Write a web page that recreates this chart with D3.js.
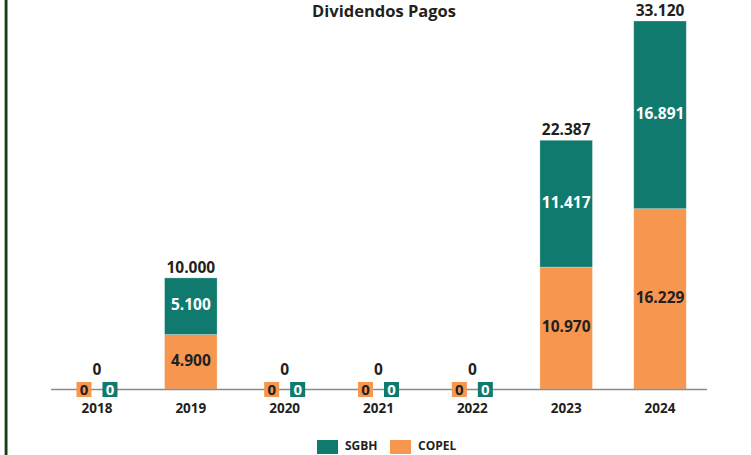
<!DOCTYPE html>
<html>
<head>
<meta charset="utf-8">
<script src="https://cdn.jsdelivr.net/npm/d3@7"></script>
<style>
  body { margin: 0; background: #fff; }
  svg text { font-family: "Open Sans", sans-serif; font-weight: 700; fill: #231f20; }
</style>
</head>
<body>
<div id="chart"></div>
<script>
// 資料
const years = ["2018", "2019", "2020", "2021", "2022", "2023", "2024"];
const copel = [0, 4900, 0, 0, 0, 10970, 16229];
const sgbh = [0, 5100, 0, 0, 0, 11417, 16891];
const totals = [0, 10000, 0, 0, 0, 22387, 33120];
const seriesNames = ["SGBH", "COPEL"];

const width = 751;
const height = 455;
const colorSgbh = "#0f7a6d";
const colorCopel = "#f7964f";

const fmt = v => d3.format(",")(v).replace(/,/g, ".");

const svg = d3.select("#chart")
  .append("svg")
  .attr("width", width)
  .attr("height", height);

// 左側邊框
svg.append("rect").attr("x", 4).attr("y", 0).attr("width", 1).attr("height", height).attr("fill", "#a8bca8");
svg.append("rect").attr("x", 5).attr("y", 0).attr("width", 2.5).attr("height", height).attr("fill", "#123f14");

const x = d3.scaleBand()
  .domain(years)
  .range([51, 706])
  .paddingInner(0.44)
  .paddingOuter(0.21);

const y = d3.scaleLinear()
  .domain([0, d3.max(totals)])
  .range([389, 21]);

// 標題
svg.append("text")
  .attr("x", 384)
  .attr("y", 17)
  .attr("text-anchor", "middle")
  .style("font-size", "16.5px")
  .text("Dividendos Pagos");

const rows = years.map((yr, i) => ({ year: yr, copel: copel[i], sgbh: sgbh[i], total: totals[i] }));
const stack = d3.stack().keys(["copel", "sgbh"])(rows);
const colors = { copel: colorCopel, sgbh: colorSgbh };

// 長條
stack.forEach(layer => {
  svg.selectAll(".bar-" + layer.key)
    .data(layer.filter(d => d[1] > d[0]))
    .join("rect")
    .attr("x", d => x(d.data.year))
    .attr("y", d => y(d[1]))
    .attr("width", x.bandwidth())
    .attr("height", d => y(d[0]) - y(d[1]))
    .attr("fill", colors[layer.key])
    .attr("stroke", "#ffffff")
    .attr("stroke-opacity", 0.35)
    .attr("stroke-width", 0.8);

  svg.selectAll(".lbl-" + layer.key)
    .data(layer.filter(d => d[1] > d[0]))
    .join("text")
    .attr("x", d => x(d.data.year) + x.bandwidth() / 2)
    .attr("y", d => (y(d[0]) + y(d[1])) / 2 + 4)
    .attr("text-anchor", "middle")
    .style("font-size", "15.5px")
    .style("fill", layer.key === "sgbh" ? "#ffffff" : "#231f20")
    .text(d => fmt(d.data[layer.key]));
});

// 軸線
svg.append("line")
  .attr("x1", 51).attr("x2", 707)
  .attr("y1", 389.5).attr("y2", 389.5)
  .attr("stroke", "#8a8a8a")
  .attr("stroke-width", 1.6);

// 零值標籤
const zeros = rows.filter(d => d.total === 0);
[["copel", -13, colorCopel, "#231f20"], ["sgbh", 13, colorSgbh, "#ffffff"]].forEach(([key, dx, fill, tc]) => {
  const g = svg.selectAll(".zero-" + key)
    .data(zeros)
    .join("g")
    .attr("transform", d => `translate(${x(d.year) + x.bandwidth() / 2 + dx},${y(0)})`);
  g.append("rect")
    .attr("x", -7.5).attr("y", -7)
    .attr("width", 15).attr("height", 15)
    .attr("fill", fill);
  g.append("text")
    .attr("y", 6)
    .attr("text-anchor", "middle")
    .style("font-size", "15px")
    .style("fill", tc)
    .text(d => d[key]);
});

// 總數
svg.selectAll(".total")
  .data(rows)
  .join("text")
  .attr("x", d => x(d.year) + x.bandwidth() / 2)
  .attr("y", d => d.total === 0 ? 375 : y(d.total) - 5)
  .attr("text-anchor", "middle")
  .style("font-size", "15.5px")
  .text(d => fmt(d.total));

// 年份
svg.selectAll(".year")
  .data(years)
  .join("text")
  .attr("x", d => x(d) + x.bandwidth() / 2)
  .attr("y", 413)
  .attr("text-anchor", "middle")
  .style("font-size", "13.5px")
  .text(d => d);

// 圖例
const legendX = [317, 390];
const legendColors = [colorSgbh, colorCopel];
seriesNames.forEach((name, i) => {
  svg.append("rect")
    .attr("x", legendX[i]).attr("y", 440)
    .attr("width", 21).attr("height", 14)
    .attr("fill", legendColors[i]);
  svg.append("text")
    .attr("x", legendX[i] + 28).attr("y", 450)
    .style("font-size", "12px")
    .text(name);
});
</script>
</body>
</html>
